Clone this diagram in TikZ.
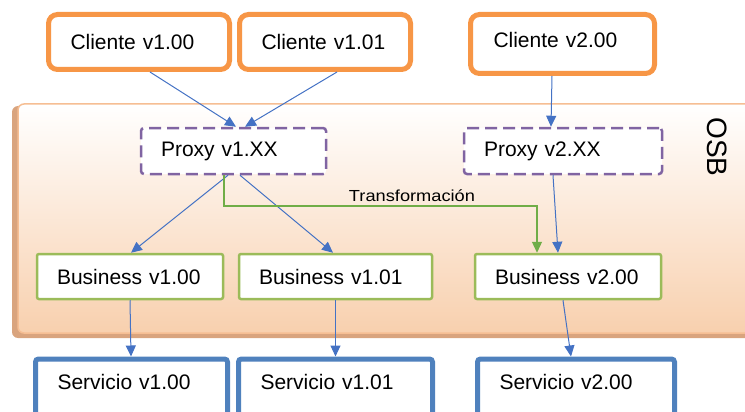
\documentclass[tikz,border=0pt]{standalone}
\usepackage{fontspec}
\setmainfont{Liberation Sans}
\usetikzlibrary{arrows.meta,calc}
\definecolor{naranja}{HTML}{F79646}
\definecolor{morado}{HTML}{8064A2}
\definecolor{verde}{HTML}{9BBB59}
\definecolor{verdeflecha}{HTML}{70AD47}
\definecolor{azul}{HTML}{4F81BD}
\definecolor{flecha}{HTML}{4472C4}
\definecolor{bus}{HTML}{F8D0AE}
\definecolor{busborde}{HTML}{F6BE93}
\definecolor{bussombra}{HTML}{D9A47E}

\begin{document}
\begin{tikzpicture}[x=1pt, y=-1pt,
		caja/.style={rectangle, fill=white, align=left,
				font=\fontsize{21}{24}\selectfont,
				inner xsep=20pt, inner ysep=0pt},
		cliente/.style={caja, draw=naranja, line width=5pt,
				rounded corners=9pt, inner xsep=22pt},
		proxy/.style={caja, draw=morado, line width=2.5pt,
				dash pattern=on 12pt off 6pt, rounded corners=3pt},
		business/.style={caja, draw=verde, line width=2.5pt,
				rounded corners=2pt},
		servicio/.style={caja, draw=azul, line width=5pt,
				rounded corners=3pt, inner xsep=22pt, text depth=12pt},
		arr/.style={-{Triangle[length=11pt, width=10pt]}, flecha,
				line width=1pt},
		trans/.style={-{Triangle[length=11pt, width=10pt]}, verdeflecha,
				line width=1.2pt},
		]

		\useasboundingbox (0,0) rectangle (745,412);
		\clip (0,0) rectangle (745,412);

		% ---- Bus OSB ----
		\fill[bussombra, rounded corners=6pt] (12,106) rectangle (770,338);
		\shadedraw[top color=white, bottom color=bus, draw=busborde,
			line width=1.5pt, rounded corners=6pt] (18,104) rectangle (770,333);
		\node[rotate=-90, font=\fontsize{28}{30}\selectfont] (osb) at (717,147) {OSB};

		% ---- Clientes ----
		\node[cliente, text width=137pt, minimum height=55pt] (c100) at (139,42) {Cliente v1.00};
		\node[cliente, text width=127pt, minimum height=55pt] (c101) at (325,42) {Cliente v1.01};
		\node[cliente, text width=138pt, minimum height=59pt, inner xsep=23pt,
			text depth=8pt] (c200) at (562.5,44) {Cliente v2.00};

		% ---- Proxies ----
		\node[proxy, text width=145pt, minimum height=46pt] (p1) at (233.5,151) {Proxy v1.XX};
		\node[proxy, text width=158pt, minimum height=46pt] (p2) at (563,151) {Proxy v2.XX};

		% ---- Business services ----
		\node[business, text width=146pt, minimum height=45pt] (b100) at (130,276.5) {Business v1.00};
		\node[business, text width=153pt, minimum height=45pt] (b101) at (335.5,276.5) {Business v1.01};
		\node[business, text width=146pt, minimum height=45pt] (b200) at (568,276.5) {Business v2.00};

		% ---- Servicios ----
		\node[servicio, text width=148pt, minimum height=58pt] (s100) at (131.5,388) {Servicio v1.00};
		\node[servicio, text width=150pt, minimum height=58pt] (s101) at (335.5,388) {Servicio v1.01};
		\node[servicio, text width=153pt, minimum height=58pt] (s200) at (576,388) {Servicio v2.00};

		% ---- Flechas ----
		\draw[arr] ([xshift=11pt]c100.south) -- ([xshift=2.5pt]p1.north);
		\draw[arr] ([xshift=12pt]c101.south) -- ([xshift=11.5pt]p1.north);
		\draw[arr] ([xshift=-10.5pt]c200.south) -- ([xshift=-12pt]p2.north);

		\draw[arr] ([xshift=-5.5pt]p1.south) -- ([xshift=1pt]b100.north);
		\draw[arr] ([xshift=6.5pt]p1.south) -- ([xshift=-2.5pt]b101.north);
		\draw[arr] ([xshift=-10pt]p2.south) -- ([xshift=-10pt]b200.north);

		\coordinate (giro) at (400,206);
		\draw[trans] ([xshift=-9.5pt]p1.south) |- (giro) -| ([xshift=-31pt]b200.north);
		\node[font=\fontsize{16}{18}\selectfont, xscale=1.14] (tlabel) at (412,196) {Transformación};

		\draw[arr] (b100.south) -- ([xshift=-0.5pt]s100.north);
		\draw[arr] (b101.south) -- (s101.north);
		\draw[arr] ([xshift=-5pt]b200.south) -- ([xshift=-5pt]s200.north);

	\end{tikzpicture}
\end{document}
